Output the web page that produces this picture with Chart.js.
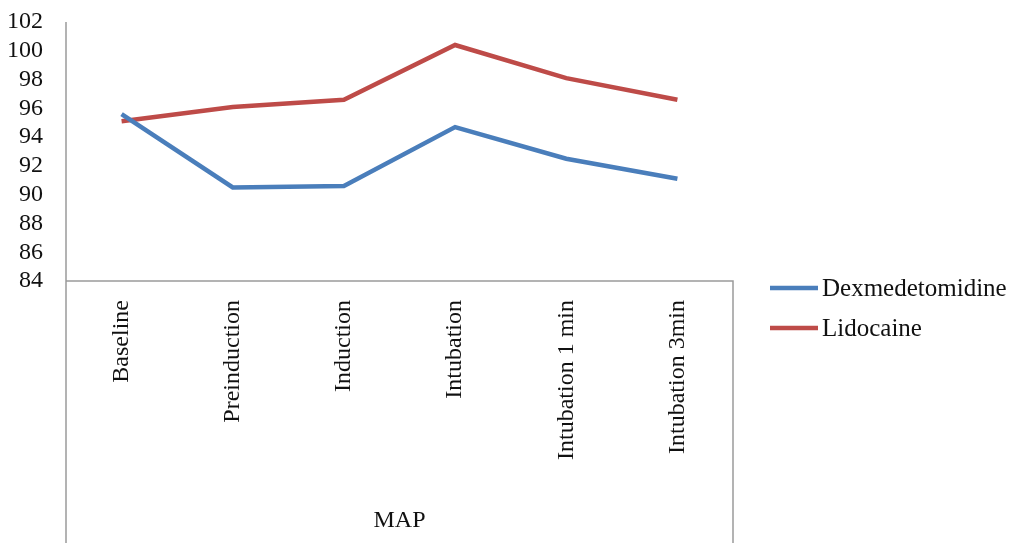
<!DOCTYPE html>
<html>
<head>
<meta charset="utf-8">
<script src="https://cdn.jsdelivr.net/npm/chart.js@4.4.1/dist/chart.umd.min.js"></script>
<style>
  html, body { margin: 0; padding: 0; background: #fff; }
  #wrap { position: relative; width: 1014px; height: 543px; }
</style>
</head>
<body>
<div id="wrap"><canvas id="c" width="1014" height="543"></canvas></div>
<script>
// Mean arterial pressure at each stage, by drug group
const stages = ['Baseline', 'Preinduction', 'Induction', 'Intubation', 'Intubation 1 min', 'Intubation 3min'];
const dexmedetomidine = [95.6, 90.5, 90.6, 94.7, 92.5, 91.1];
const lidocaine = [95.1, 96.1, 96.6, 100.4, 98.1, 96.6];
const seriesNames = ['Dexmedetomidine', 'Lidocaine'];
const yTicks = [84, 86, 88, 90, 92, 94, 96, 98, 100, 102];
const axisTitle = 'MAP';

const FONT = 'Liberation Serif';
const AXIS_GREY = '#9a9a9a';
const LINE_W = 4.5;

// Extends the y axis and closes the category-axis box down to the canvas bottom
const axisBox = {
  id: 'axisBox',
  afterDraw(chart) {
    const { ctx, chartArea } = chart;
    const xs = chart.scales.x;
    ctx.save();
    ctx.strokeStyle = AXIS_GREY;
    ctx.lineWidth = 1.5;
    ctx.beginPath();
    ctx.moveTo(chartArea.left, chartArea.top);
    ctx.lineTo(chartArea.left, xs.bottom);
    ctx.moveTo(chartArea.left, chartArea.bottom);
    ctx.lineTo(chartArea.right, chartArea.bottom);
    ctx.lineTo(chartArea.right, xs.bottom);
    ctx.stroke();
    ctx.restore();
  }
};

// Series key to the right of the plot
const sideLegend = {
  id: 'sideLegend',
  afterDraw(chart) {
    const { ctx, chartArea } = chart;
    const x0 = chartArea.right + 37;
    const y0 = chartArea.bottom + 7;
    const rowGap = 40;
    ctx.save();
    ctx.font = '25px "' + FONT + '"';
    ctx.textBaseline = 'middle';
    ctx.textAlign = 'left';
    chart.data.datasets.forEach((ds, i) => {
      const y = y0 + i * rowGap;
      ctx.strokeStyle = ds.borderColor;
      ctx.lineWidth = LINE_W;
      ctx.beginPath();
      ctx.moveTo(x0, y);
      ctx.lineTo(x0 + 48, y);
      ctx.stroke();
      ctx.fillStyle = '#111';
      ctx.fillText(ds.label, x0 + 52, y + 1);
    });
    ctx.restore();
  }
};

new Chart(document.getElementById('c'), {
  type: 'line',
  data: {
    labels: stages,
    datasets: [
      { label: seriesNames[0], data: dexmedetomidine, borderColor: '#4a7ebb', backgroundColor: '#4a7ebb',
        borderWidth: LINE_W, pointRadius: 0, tension: 0, borderCapStyle: 'butt' },
      { label: seriesNames[1], data: lidocaine, borderColor: '#be4b48', backgroundColor: '#be4b48',
        borderWidth: LINE_W, pointRadius: 0, tension: 0, borderCapStyle: 'butt' }
    ]
  },
  options: {
    responsive: false,
    animation: false,
    layout: { padding: { top: 22, right: 281, bottom: 0, left: 0 } },
    plugins: {
      legend: { display: false },
      tooltip: { enabled: false }
    },
    scales: {
      x: {
        offset: true,
        grid: { display: false, drawTicks: false },
        border: { display: false },
        ticks: {
          autoSkip: false,
          minRotation: 90, maxRotation: 90, padding: 19,
          color: '#111', font: { family: FONT, size: 24 }
        },
        title: {
          display: true, text: axisTitle, color: '#111',
          font: { family: FONT, size: 24 }, padding: { top: 0, bottom: 8 }
        },
        afterFit(scale) {
          scale.height = 262;
          scale.paddingTop = 0; scale.paddingBottom = 0;
          scale.paddingLeft = 0; scale.paddingRight = 0;
        }
      },
      y: {
        min: yTicks[0], max: yTicks[yTicks.length - 1],
        afterBuildTicks(scale) { scale.ticks = yTicks.map(v => ({ value: v })); },
        grid: { display: false, drawTicks: false },
        border: { display: false },
        ticks: {
          autoSkip: false,
          padding: 23, color: '#111',
          font: { family: FONT, size: 24 }
        },
        afterFit(scale) {
          scale.width = 66;
          scale.paddingTop = 0; scale.paddingBottom = 0;
          scale.paddingLeft = 0; scale.paddingRight = 0;
        }
      }
    }
  },
  plugins: [axisBox, sideLegend]
});
</script>
</body>
</html>
